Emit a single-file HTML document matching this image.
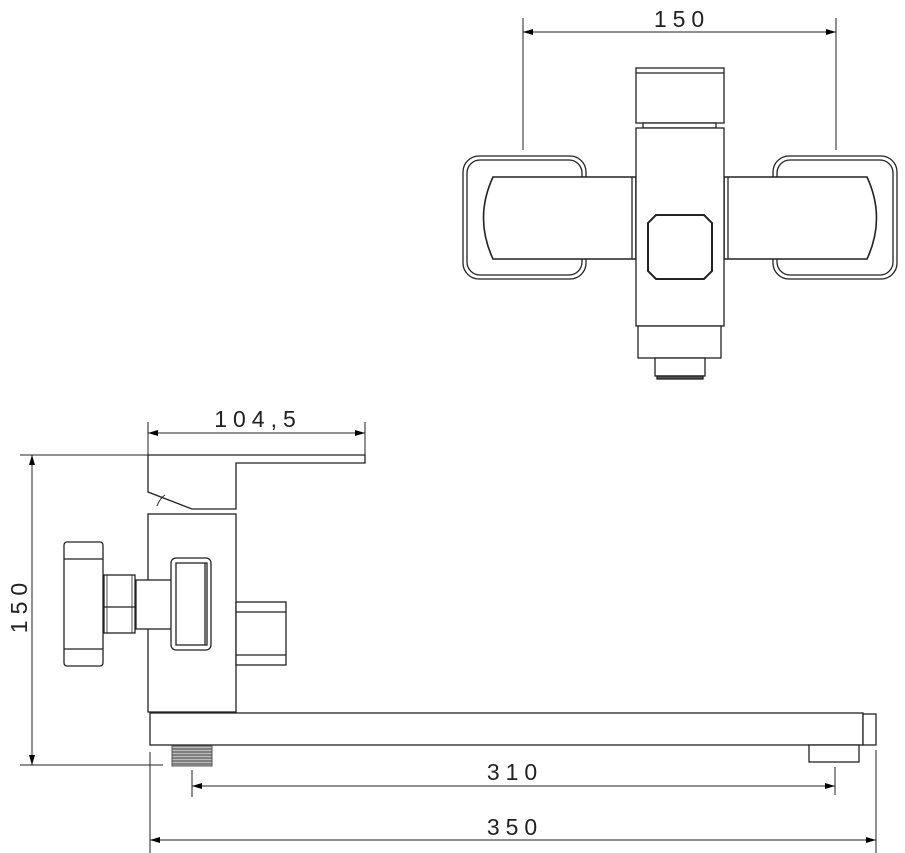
<!DOCTYPE html>
<html><head><meta charset="utf-8"><style>
html,body{margin:0;padding:0;background:#fff}
svg{display:block}
text{font-family:"Liberation Sans Narrow","Liberation Sans",sans-serif;font-size:23px;fill:#222;letter-spacing:6px;font-weight:300}
</style></head><body>
<svg width="905" height="853" viewBox="0 0 905 853" xmlns="http://www.w3.org/2000/svg">
<defs>
<marker id="a" viewBox="0 0 10 6" refX="10" refY="3" markerWidth="20" markerHeight="6" markerUnits="userSpaceOnUse" orient="auto-start-reverse"><path d="M0,0L10,3L0,6z" fill="#000"/></marker>
</defs>
<g fill="#fff" stroke="#222" stroke-width="1.3">
<line x1="523" y1="18" x2="523" y2="150" stroke-width="1"/>
<line x1="836" y1="18" x2="836" y2="150" stroke-width="1"/>
<line x1="523" y1="32" x2="836" y2="32" marker-start="url(#a)" marker-end="url(#a)" stroke-width="1"/>
<rect x="463" y="156" width="123" height="123" rx="16"/>
<rect x="467" y="160" width="115" height="115" rx="13"/>
<rect x="773" y="156" width="124" height="123" rx="16"/>
<rect x="777" y="160" width="116" height="115" rx="13"/>
<path d="M493,177 L636,177 L636,259 L493,259 Q474,218 493,177z" stroke-width="1.6"/>
<line x1="632" y1="177" x2="632" y2="259"/>
<path d="M724,177 L867,177 Q886,218 867,259 L724,259z" stroke-width="1.6"/>
<line x1="728" y1="177" x2="728" y2="259"/>
<rect x="636" y="68" width="88" height="55"/>
<line x1="636" y1="73" x2="724" y2="73"/>
<rect x="643" y="123" width="73" height="5"/>
<rect x="636" y="128" width="88" height="198"/>
<path d="M656,215 L704,215 L712,223 L712,271 L704,279 L656,279 L648,271 L648,223z" stroke-width="2"/>
<rect x="638" y="326" width="83" height="32"/>
<rect x="655" y="358" width="50" height="18"/>
<rect x="657" y="376" width="46" height="3" fill="#555"/>

<line x1="148" y1="422" x2="148" y2="455" stroke-width="1"/>
<line x1="365" y1="422" x2="365" y2="455" stroke-width="1"/>
<line x1="148" y1="433" x2="365" y2="433" marker-start="url(#a)" marker-end="url(#a)" stroke-width="1"/>
<line x1="20" y1="455" x2="148" y2="455" stroke-width="1"/>
<line x1="20" y1="765" x2="163" y2="765" stroke-width="1"/>
<line x1="32" y1="455" x2="32" y2="765" marker-start="url(#a)" marker-end="url(#a)" stroke-width="1"/>
<path d="M148,455 L365,455 L365,463 L236,463 L236,509 L192,509 L148,492z"/>
<path d="M157,506 Q160,498 165,495" fill="none" stroke-width="1"/>
<rect x="148" y="514" width="88" height="198"/>
<rect x="236" y="602" width="50" height="63"/>
<line x1="236" y1="612" x2="286" y2="612"/>
<line x1="236" y1="655" x2="286" y2="655"/>
<rect x="64" y="542" width="39" height="124" rx="3"/>
<line x1="64" y1="559" x2="103" y2="559"/>
<line x1="64" y1="649" x2="103" y2="649"/>
<rect x="104" y="575" width="31" height="58"/>
<line x1="104" y1="607" x2="135" y2="607"/>
<line x1="107" y1="575" x2="107" y2="633" stroke-width="0.8"/>
<line x1="132" y1="575" x2="132" y2="633" stroke-width="0.8"/>
<rect x="136" y="580" width="37" height="49"/>
<rect x="171" y="558" width="40" height="92" rx="5"/>
<rect x="176" y="563" width="31" height="82"/>
<line x1="205" y1="563" x2="205" y2="645"/>
<rect x="150" y="713" width="713" height="32"/>
<rect x="863" y="714" width="13" height="31"/>
<rect x="809" y="745" width="50" height="17"/>
<rect x="172" y="746" width="40" height="20" fill="#bbb" stroke="#555" stroke-width="1"/>
<path d="M172,749H212M172,752H212M172,755H212M172,758H212M172,761H212M172,764H212" stroke="#444" stroke-width="1"/>
<line x1="150" y1="752" x2="150" y2="853" stroke-width="1"/>
<line x1="876" y1="750" x2="876" y2="853" stroke-width="1"/>
<line x1="192" y1="770" x2="192" y2="797" stroke-width="1"/>
<line x1="835" y1="767" x2="835" y2="795" stroke-width="1"/>
<line x1="192" y1="786" x2="835" y2="786" marker-start="url(#a)" marker-end="url(#a)" stroke-width="1"/>
<line x1="150" y1="840" x2="876" y2="840" marker-start="url(#a)" marker-end="url(#a)" stroke-width="1"/>
</g>
<text x="682" y="27" text-anchor="middle">150</text>
<text x="258" y="427" text-anchor="middle">104,5</text>
<text x="515" y="780" text-anchor="middle">310</text>
<text x="515" y="835" text-anchor="middle">350</text>
<text x="0" y="0" text-anchor="middle" transform="translate(27,605) rotate(-90)">150</text>
</svg>
</body></html>
